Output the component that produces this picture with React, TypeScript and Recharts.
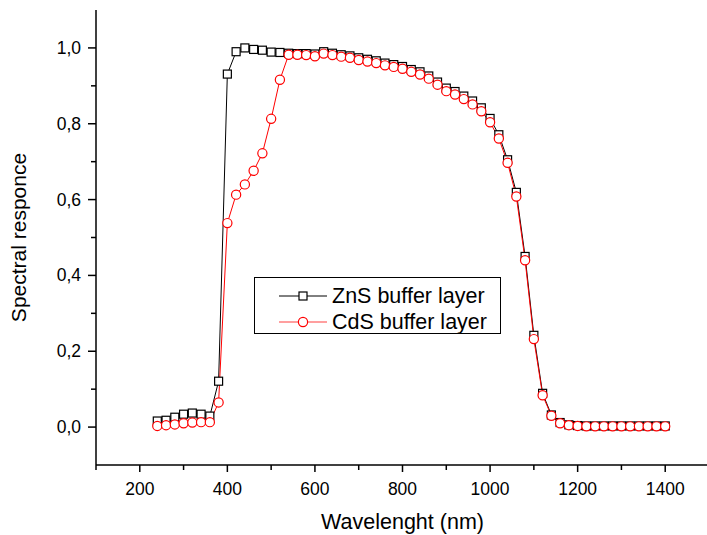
import React from 'react';
import { LineChart, Line, XAxis, YAxis } from 'recharts';

const wavelengths = [
  240, 260, 280, 300, 320, 340, 360, 380, 400, 420, 440, 460, 480, 500, 520, 540, 560, 580, 600, 620,
  640, 660, 680, 700, 720, 740, 760, 780, 800, 820, 840, 860, 880, 900, 920, 940, 960, 980, 1000, 1020,
  1040, 1060, 1080, 1100, 1120, 1140, 1160, 1180, 1200, 1220, 1240, 1260, 1280, 1300, 1320, 1340, 1360, 1380, 1400,
];

const znsValues = [
  0.016, 0.018, 0.026, 0.034, 0.037, 0.034, 0.029, 0.121, 0.931, 0.99, 1.0, 0.996, 0.994, 0.989, 0.988, 0.986, 0.985, 0.985, 0.984, 0.99,
  0.986, 0.982, 0.979, 0.974, 0.97, 0.966, 0.96, 0.956, 0.951, 0.943, 0.937, 0.926, 0.91, 0.894, 0.885, 0.873, 0.86, 0.842, 0.814, 0.771,
  0.705, 0.619, 0.45, 0.242, 0.089, 0.032, 0.012, 0.006, 0.004, 0.003, 0.003, 0.003, 0.003, 0.003, 0.003, 0.003, 0.003, 0.003, 0.003,
];

const cdsValues = [
  0.003, 0.005, 0.007, 0.01, 0.012, 0.013, 0.013, 0.065, 0.538, 0.613, 0.64, 0.676, 0.722, 0.813, 0.916, 0.982, 0.982, 0.981, 0.978, 0.985,
  0.981, 0.977, 0.974, 0.968, 0.964, 0.96, 0.954, 0.95, 0.945, 0.937, 0.93, 0.919, 0.903, 0.886, 0.877, 0.865, 0.851, 0.833, 0.804, 0.761,
  0.697, 0.608, 0.44, 0.232, 0.084, 0.03, 0.01, 0.005, 0.003, 0.002, 0.002, 0.002, 0.002, 0.002, 0.002, 0.002, 0.002, 0.002, 0.002,
];

const xTicks = [100, 200, 300, 400, 500, 600, 700, 800, 900, 1000, 1100, 1200, 1300, 1400];
const xLabeled = [200, 400, 600, 800, 1000, 1200, 1400];
const yTicks = [0, 0.1, 0.2, 0.3, 0.4, 0.5, 0.6, 0.7, 0.8, 0.9, 1.0];
const yLabeled = ['0,0', '0,2', '0,4', '0,6', '0,8', '1,0'];

const seriesNames = ['ZnS buffer layer', 'CdS buffer layer'];

const data = wavelengths.map((w, i) => ({ x: w, zns: znsValues[i], cds: cdsValues[i] }));

const FONT = '"Liberation Sans", Arial, sans-serif';

const XTick = (props: any) => {
  const { x, y, payload } = props;
  const v = payload.value;
  const major = xLabeled.includes(v);
  return (
    <g>
      <line x1={x} x2={x} y1={y} y2={y + (major ? 7 : 5)} stroke="#000" strokeWidth={1.5} />
      {major && (
        <text x={x} y={y + 30} textAnchor="middle" fontSize={17.5} fontFamily={FONT} fill="#000">
          {v}
        </text>
      )}
    </g>
  );
};

const YTick = (props: any) => {
  const { x, y, payload } = props;
  const v = payload.value;
  const idx = Math.round(v * 10);
  const major = idx % 2 === 0;
  return (
    <g>
      <line x1={x} x2={x - (major ? 8 : 5)} y1={y} y2={y} stroke="#000" strokeWidth={1.5} />
      {major && (
        <text x={x - 15} y={y + 6} textAnchor="end" fontSize={17.5} fontFamily={FONT} fill="#000">
          {yLabeled[idx / 2]}
        </text>
      )}
    </g>
  );
};

const SquareDot = (props: any) => {
  const { cx, cy, index } = props;
  if (cx == null || cy == null) return <g key={`s-${index}`} />;
  return (
    <rect key={`s-${index}`} x={cx - 4} y={cy - 4} width={8} height={8} fill="#fff" stroke="#000" strokeWidth={1.2} />
  );
};

const CircleDot = (props: any) => {
  const { cx, cy, index } = props;
  if (cx == null || cy == null) return <g key={`c-${index}`} />;
  return <circle key={`c-${index}`} cx={cx} cy={cy} r={4.6} fill="#fff" stroke="#ff0000" strokeWidth={1.2} />;
};

export default function App() {
  return (
    <div style={{ position: 'absolute', left: 0, top: 0, width: 707, height: 535, overflow: 'hidden', background: '#fff' }}>
      <LineChart width={720} height={535} data={data} margin={{ top: 10, right: 11, bottom: 0, left: 0 }}>
        <XAxis
          dataKey="x"
          type="number"
          domain={[100, 1500]}
          ticks={xTicks}
          interval={0}
          tick={<XTick />}
          tickLine={false}
          tickSize={0}
          tickMargin={0}
          height={70}
          axisLine={{ stroke: '#000', strokeWidth: 1.5 }}
          allowDataOverflow
          label={{ value: 'Wavelenght (nm)', position: 'insideBottom', offset: 6, style: { fontSize: 21.5, fontFamily: FONT, fill: '#000' } }}
        />
        <YAxis
          type="number"
          domain={[-0.1, 1.1]}
          ticks={yTicks}
          interval={0}
          tick={<YTick />}
          tickLine={false}
          tickSize={0}
          tickMargin={0}
          width={96}
          axisLine={{ stroke: '#000', strokeWidth: 1.5 }}
          allowDataOverflow
          label={{ value: 'Spectral responce', angle: -90, position: 'insideLeft', offset: 19, style: { fontSize: 21, fontFamily: FONT, fill: '#000', textAnchor: 'middle' } }}
        />
        <Line dataKey="zns" name={seriesNames[0]} type="linear" stroke="#000" strokeWidth={1} dot={SquareDot} activeDot={false} isAnimationActive={false} />
        <Line dataKey="cds" name={seriesNames[1]} type="linear" stroke="#ff0000" strokeWidth={1} dot={CircleDot} activeDot={false} isAnimationActive={false} />
      </LineChart>
      <div style={{ position: 'absolute', left: 254, top: 277, width: 245, height: 55, border: '1.5px solid #000', background: '#fff' }}>
        <svg width={245} height={55} style={{ display: 'block' }}>
          <line x1={24} x2={72} y1={18} y2={18} stroke="#000" strokeWidth={1} />
          <rect x={44} y={14} width={8} height={8} fill="#fff" stroke="#000" strokeWidth={1.2} />
          <text x={77} y={25} fontSize={21.5} fontFamily={FONT} fill="#000">{seriesNames[0]}</text>
          <line x1={24} x2={72} y1={44} y2={44} stroke="#ff4040" strokeWidth={1.2} />
          <circle cx={48} cy={44} r={4.6} fill="#fff" stroke="#ff0000" strokeWidth={1.2} />
          <text x={77} y={51} fontSize={21.5} fontFamily={FONT} fill="#000">{seriesNames[1]}</text>
        </svg>
      </div>
    </div>
  );
}
